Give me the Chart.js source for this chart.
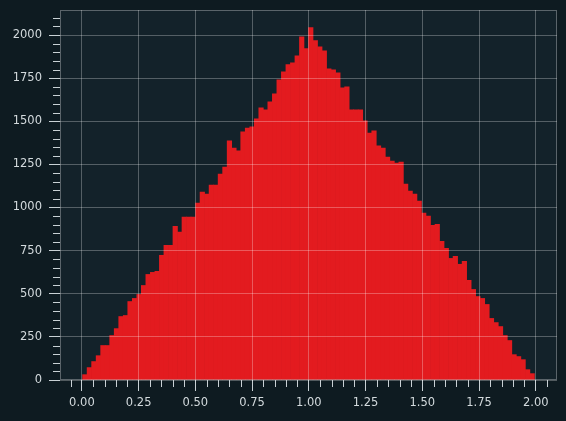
<!DOCTYPE html>
<html>
<head>
<meta charset="utf-8">
<script src="https://cdn.jsdelivr.net/npm/chart.js@4.4.0/dist/chart.umd.min.js"></script>
<style>
  html, body { margin: 0; padding: 0; background: #0e1b21; }
  #wrap { width: 566px; height: 421px; }
</style>
</head>
<body>
<div id="wrap"><canvas id="histChart"></canvas></div>
<script>
// histogram bins: 100 bins between binStart and binEnd
const binStart = 0.003;
const binEnd = 1.994;
const counts = [
  31, 72, 107, 141, 200, 200, 258, 298, 368, 374,
  455, 473, 496, 548, 612, 624, 630, 723, 781, 781,
  891, 857, 944, 944, 944, 1025, 1089, 1078, 1130, 1130,
  1194, 1234, 1386, 1345, 1328, 1438, 1461, 1467, 1514, 1578,
  1566, 1612, 1659, 1740, 1787, 1828, 1839, 1880, 1990, 1921,
  2043, 1967, 1932, 1909, 1804, 1798, 1781, 1694, 1700, 1566,
  1566, 1566, 1502, 1432, 1444, 1357, 1345, 1293, 1269, 1258,
  1264, 1136, 1095, 1078, 1037, 967, 950, 897, 903, 804,
  764, 705, 717, 671, 688, 578, 525, 484, 473, 438,
  357, 333, 310, 258, 229, 147, 136, 118, 60, 37
];
const xTicks = [0, 0.25, 0.5, 0.75, 1, 1.25, 1.5, 1.75, 2];
const yTicks = [0, 250, 500, 750, 1000, 1250, 1500, 1750, 2000];

const binWidth = (binEnd - binStart) / counts.length;
const points = counts.map((c, i) => ({ x: binStart + (i + 0.5) * binWidth, y: c }));

const gridColor = 'rgba(255,255,255,0.28)';
const tickColor = '#c9d1d5';
const labelColor = '#d3dadd';

const keepTicks = list => scale => {
  scale.ticks = list.map(v => ({ value: v }));
};

// plot background, frame and minor ticks
const decor = {
  id: 'decor',
  beforeDraw(chart) {
    const { ctx, chartArea: a } = chart;
    ctx.save();
    ctx.fillStyle = '#13222a';
    ctx.fillRect(a.left, a.top, a.right - a.left, a.bottom - a.top);
    ctx.restore();
  },
  afterDraw(chart) {
    const { ctx, chartArea: a } = chart;
    const xs = chart.scales.x, ys = chart.scales.y;
    ctx.save();
    ctx.strokeStyle = 'rgba(255,255,255,0.3)';
    ctx.lineWidth = 1;
    ctx.strokeRect(a.left + 0.5, a.top + 0.5, a.right - a.left - 1, a.bottom - a.top - 1);
    ctx.strokeStyle = tickColor;
    ctx.beginPath();
    for (let k = -1; k <= 41; k++) {
      const v = k * 0.05;
      if (k % 5 === 0) continue;
      const px = Math.round(xs.getPixelForValue(v)) + 0.5;
      if (px < a.left || px > a.right) continue;
      ctx.moveTo(px, a.bottom);
      ctx.lineTo(px, a.bottom + 7);
    }
    for (let k = 1; k <= 42; k++) {
      const v = k * 50;
      if (k % 5 === 0) continue;
      const py = Math.round(ys.getPixelForValue(v)) + 0.5;
      if (py < a.top) continue;
      ctx.moveTo(a.left, py);
      ctx.lineTo(a.left - 7, py);
    }
    ctx.stroke();
    ctx.restore();
  }
};

new Chart(document.getElementById('histChart'), {
  type: 'bar',
  data: {
    datasets: [{
      data: points,
      backgroundColor: '#e31b1f',
      borderWidth: 0,
      barPercentage: 1,
      categoryPercentage: 1,
      grouped: false
    }]
  },
  options: {
    responsive: true,
    maintainAspectRatio: false,
    animation: false,
    layout: { padding: { top: 10, right: 9, left: 0, bottom: 0 } },
    plugins: { legend: { display: false }, tooltip: { enabled: false } },
    scales: {
      x: {
        type: 'linear',
        offset: false,
        min: binStart - 0.05 * (binEnd - binStart),
        max: binEnd + 0.05 * (binEnd - binStart),
        afterBuildTicks: keepTicks(xTicks),
        afterFit: s => { s.height = 41; s.paddingLeft = 0; s.paddingRight = 0; },
        grid: { z: 1, offset: false, color: gridColor, tickColor: tickColor, tickLength: 11 },
        border: { display: false },
        ticks: {
          color: labelColor,
          font: { family: 'DejaVu Sans', size: 11.5 },
          padding: 5,
          maxRotation: 0,
          callback: v => v.toFixed(2)
        }
      },
      y: {
        min: 0,
        max: 2145,
        afterBuildTicks: keepTicks(yTicks),
        afterFit: s => { s.width = 60; s.paddingTop = 0; s.paddingBottom = 0; },
        grid: { z: 1, color: gridColor, tickColor: tickColor, tickLength: 11 },
        border: { display: false },
        ticks: {
          color: labelColor,
          font: { family: 'DejaVu Sans', size: 11.5 },
          padding: 7,
          callback: v => String(v)
        }
      }
    }
  },
  plugins: [decor]
});
</script>
</body>
</html>
